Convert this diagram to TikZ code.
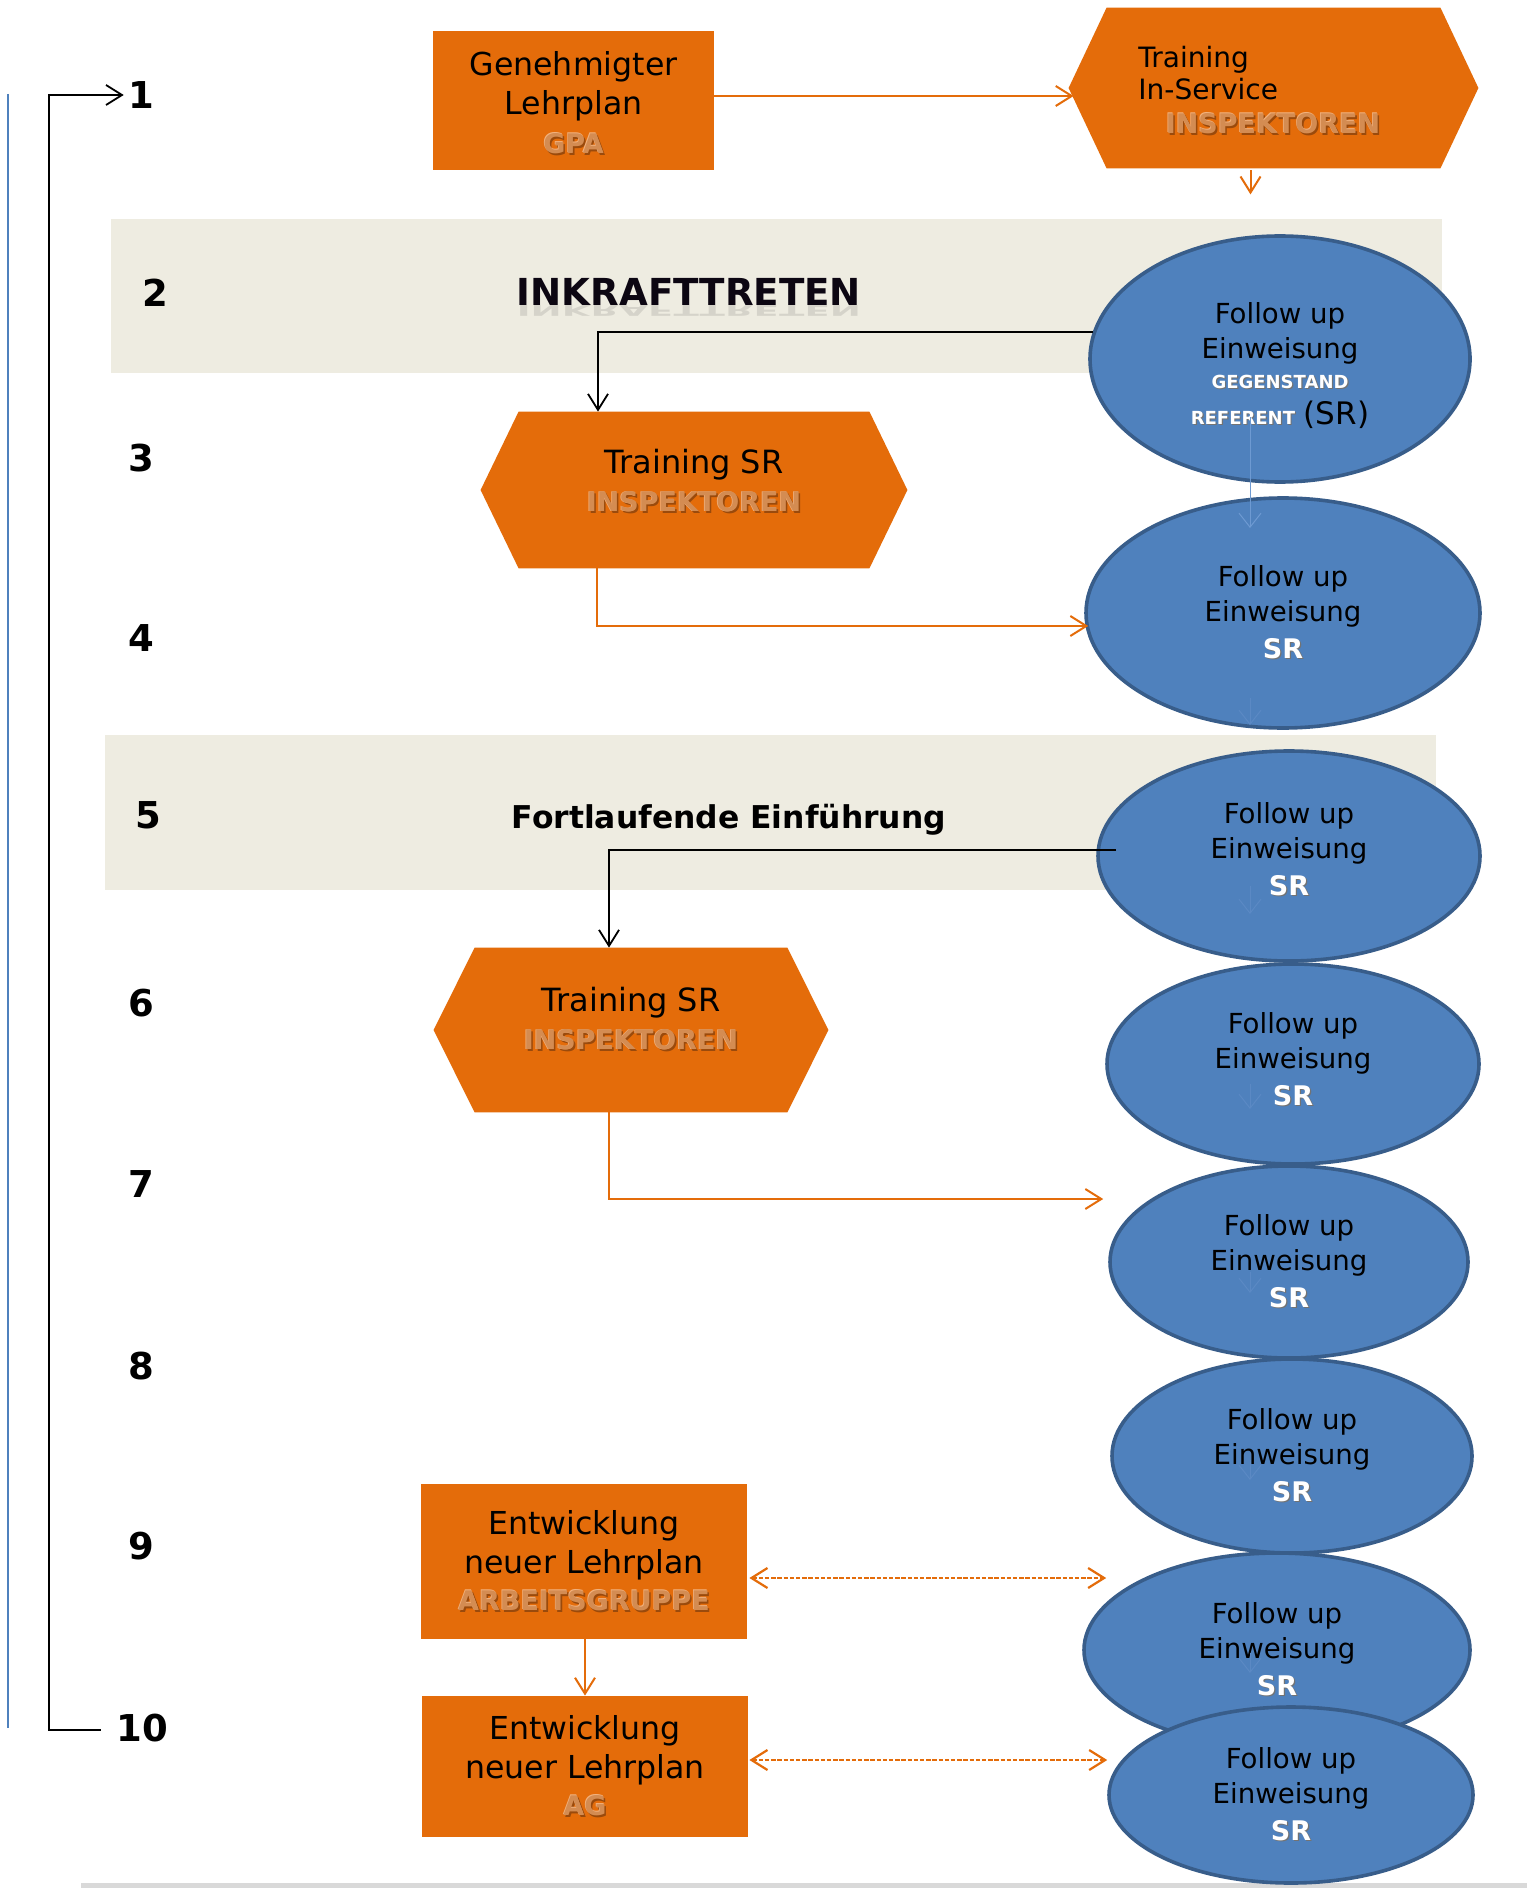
\documentclass[tikz,border=0pt]{standalone}
\usepackage{fontspec}
\setmainfont{DejaVu Sans}
\usepackage{graphicx}
\usetikzlibrary{arrows.meta,calc,shapes.geometric}
\definecolor{org}{HTML}{E46C0A}
\definecolor{blu}{HTML}{4F81BD}
\definecolor{bluedge}{HTML}{385D8A}
\definecolor{beige}{HTML}{EEECE1}
\definecolor{embface}{HTML}{D48C52}
\definecolor{embhl}{HTML}{F2B27E}
\definecolor{embshadow}{HTML}{9A4A0C}
\definecolor{faintblue}{HTML}{5B89C4}
\definecolor{faintline}{HTML}{6E9AD2}
\definecolor{titleblack}{HTML}{0C0612}
\definecolor{bandline}{HTML}{D9D9D9}
\newcommand\emb[1]{\leavevmode\rlap{\kern0.8pt\raisebox{-1pt}{\textcolor{embshadow}{#1}}}\rlap{\kern-0.35pt\raisebox{0.35pt}{\textcolor{embhl}{#1}}}\textcolor{embface}{#1}}
\newcommand\embf[1]{{\fontsize{13.5}{16}\selectfont\bfseries\emb{#1}}}
\newcommand\wsh[1]{\leavevmode\rlap{\kern0.6pt\raisebox{-0.7pt}{\textcolor{black!55}{#1}}}\textcolor{white}{#1}}
\newcommand\srt{{\fontsize{13.5}{15}\selectfont\bfseries\wsh{SR}}}
\newcommand\hexfill[2]{\fill[org] (#1.west) -- ($(#1.north west)+(#2,0)$) -- ($(#1.north east)+(-#2,0)$) -- (#1.east) -- ($(#1.south east)+(-#2,0)$) -- ($(#1.south west)+(#2,0)$) -- cycle;}
\begin{document}
\begin{tikzpicture}[x=0.5pt,y=-0.5pt,
  box/.style={fill=org, draw=none, inner sep=0pt, align=center, text=black, font=\fontsize{15.8}{19.5}\selectfont},
  hexbox/.style={draw=none, fill=none, inner sep=0pt},
  ell/.style={ellipse, fill=blu, draw=bluedge, line width=1.8pt, inner sep=0pt, align=center, text=black, font=\fontsize{13.8}{17.3}\selectfont},
  num/.style={font=\fontsize{18.5}{20}\selectfont\bfseries, inner sep=0pt},
  band/.style={fill=beige, draw=none, inner sep=0pt},
  oarr/.style={draw=org, line width=1pt, -{Straight Barb[length=8pt,width=10pt]}},
  barr/.style={draw=black, line width=0.9pt, -{Straight Barb[length=8pt,width=10pt]}},
  darr/.style={draw=org, line width=1.1pt, dash pattern=on 2.2pt off 0.9pt, {Straight Barb[length=8pt,width=10pt]}-{Straight Barb[length=8pt,width=10pt]}},
  faint/.style={draw=faintblue, line width=0.5pt, -{Straight Barb[length=7pt,width=11pt]}},
  lbl/.style={inner sep=0pt, align=center, text=black}
]
\fill[white] (0,0) rectangle (1527,1888);
\useasboundingbox (0,0) rectangle (1527,1888);

% left vertical line and bottom rule
\draw[blu, line width=0.8pt] (8,94) -- (8,1728);
\fill[bandline] (81,1883) rectangle (1527,1888);

% bands
\node[band, minimum width=665.5pt, minimum height=77pt] (band1) at (776.5,296) {};
\node[band, minimum width=665.5pt, minimum height=77.5pt] (band2) at (770.5,812.5) {};

% row numbers
\node[num] (n1) at (141,95) {1};
\node[num] (n2) at (155,293) {2};
\node[num] (n3) at (141,458) {3};
\node[num] (n4) at (141,638) {4};
\node[num] (n5) at (148,815) {5};
\node[num] (n6) at (141,1003) {6};
\node[num] (n7) at (141,1184) {7};
\node[num] (n8) at (141,1366) {8};
\node[num] (n9) at (141,1546) {9};
\node[num] (n10) at (142,1728) {10};

% band titles
\node[inner sep=0pt, font=\fontsize{18.6}{20}\selectfont\bfseries, text=titleblack] (inkr) at (689,292) {INKRAFTTRETEN};
\node[inner sep=0pt, anchor=north, font=\fontsize{18.6}{20}\selectfont\bfseries, text=black, text opacity=0.1] (inkrrefl) at (689,305) {\scalebox{1}[-0.4]{INKRAFTTRETEN}};
\node[inner sep=0pt, anchor=base, font=\fontsize{15.7}{18}\selectfont\bfseries, text=black] (fort) at (729,828) {Fortlaufende Einführung};

% orange boxes
\node[box, minimum width=140.5pt, minimum height=69.5pt] (gpa) at (573.5,100.5) {\rule{0pt}{15pt}Genehmigter\\Lehrplan\\[0pt]\embf{GPA}};
\node[box, minimum width=163pt, minimum height=77.5pt] (ag1) at (584,1561.5) {Entwicklung\\neuer Lehrplan\\[-1pt]\embf{ARBEITSGRUPPE}};
\node[box, minimum width=163pt, minimum height=70.5pt] (ag2) at (585,1766.5) {Entwicklung\\neuer Lehrplan\\[-1pt]\embf{AG}};

% hexagons
\node[hexbox, minimum width=204.5pt, minimum height=80pt] (hex1) at (1273.5,88) {};
\hexfill{hex1}{38}
\node[lbl, anchor=north west, align=left, font=\fontsize{14}{16}\selectfont] (hex1t) at (1138,46) {Training\\In-Service};
\node[lbl] (hex1s) at (1273,124) {\embf{INSPEKTOREN}};

\node[hexbox, minimum width=213pt, minimum height=78pt] (hex2) at (694,490) {};
\hexfill{hex2}{38}
\node[lbl, font=\fontsize{16}{19.5}\selectfont] (hex2t) at (694,482) {Training SR\\[-0.5pt]\embf{INSPEKTOREN}};

\node[hexbox, minimum width=197pt, minimum height=82pt] (hex3) at (631,1030) {};
\hexfill{hex3}{41}
\node[lbl, font=\fontsize{16}{19.5}\selectfont] (hex3t) at (631,1020) {Training SR\\[-0.5pt]\embf{INSPEKTOREN}};

% blue ellipses
\node[ell, minimum width=190pt, minimum height=123pt] (e1) at (1280,359) {\rule{0pt}{17pt}Follow up\\Einweisung\\[-2.3pt]{\fontsize{9}{10}\selectfont\bfseries\wsh{GEGENSTAND}}\\[0.7pt]{\fontsize{9}{10}\selectfont\bfseries\wsh{REFERENT}} {\fontsize{15.5}{17}\selectfont(SR)}};
\node[ell, minimum width=197pt, minimum height=115pt] (e2) at (1283,613) {Follow up\\Einweisung\\[1.2pt]\srt};
\node[ell, minimum width=191pt, minimum height=105pt] (e3) at (1289,856) {Follow up\\Einweisung\\[1.2pt]\srt\rule[-7pt]{0pt}{1pt}};
\node[ell, minimum width=186pt, minimum height=100pt] (e4) at (1293,1064) {Follow up\\Einweisung\\[1.2pt]\srt\rule[-5pt]{0pt}{1pt}};
\node[ell, minimum width=179pt, minimum height=96pt] (e5) at (1289,1262) {Follow up\\Einweisung\\[1.2pt]\srt};
\node[ell, minimum width=180pt, minimum height=97pt] (e6) at (1292,1456) {Follow up\\Einweisung\\[1.2pt]\srt};
\node[ell, minimum width=193pt, minimum height=97pt] (e7) at (1277,1650) {Follow up\\Einweisung\\[1.2pt]\srt};
\node[ell, minimum width=182pt, minimum height=88pt] (e8) at (1291,1795) {Follow up\\Einweisung\\[1.2pt]\srt};

% faint chain between ellipses
\draw[faint, draw=faintline] ($(e1.center)+(-30,58)$) -- ($(e2.center)+(-33,-85)$);
\draw[faint] ($(e2.center)+(-33,85)$) -- ($(e2.center)+(-33,112)$);
\draw[faint] ($(e3.center)+(-39,30)$) -- ($(e3.center)+(-39,58)$);
\draw[faint] ($(e4.center)+(-43,20)$) -- ($(e4.center)+(-43,45)$);
\draw[faint] ($(e5.center)+(-39,10)$) -- ($(e5.center)+(-39,31)$);
\draw[faint] ($(e6.center)+(-42,4)$) -- ($(e6.center)+(-42,24)$);
\draw[faint] ($(e7.center)+(-27,3)$) -- ($(e7.center)+(-27,23)$);

% connectors
\coordinate (a1) at ($(hex1.west)+(5,8)$);
\draw[oarr] (gpa.east |- a1) -- (a1);
\coordinate (hexout) at ($(hex1.south)+(-23,26)$);
\draw[oarr] ($(hex1.south)+(-23,2)$) -- (hexout);
\draw[barr] ($(e1.west)+(5,-27)$) -| ($(hex2.north)+(-96,0)$);
\draw[oarr] ($(hex2.south)+(-97,0)$) |- ($(e2.west)+(4,13)$);
\draw[barr] ($(e3.west)+(20,-6)$) -| ($(hex3.north)+(-22,0)$);
\draw[oarr] ($(hex3.south)+(-22,0)$) |- ($(e5.west)+(-5,-63)$);
\draw[oarr] ($(ag1.south)+(1,0)$) -- (ag2.north);
\draw[darr] ($(ag1.east)+(2,16.5)$) -- ($(e7.west)+(24,-72)$);
\draw[darr] ($(ag2.east)+(1,-6.5)$) -- ($(e8.west)+(0,-35)$);

% bracket from 10 back to 1
\coordinate (brk) at (49,1730);
\draw[barr] ($(n10.west)+(-15,2)$) -- (brk) |- ($(n1.west)+(-4,0)$);
\end{tikzpicture}
\end{document}
